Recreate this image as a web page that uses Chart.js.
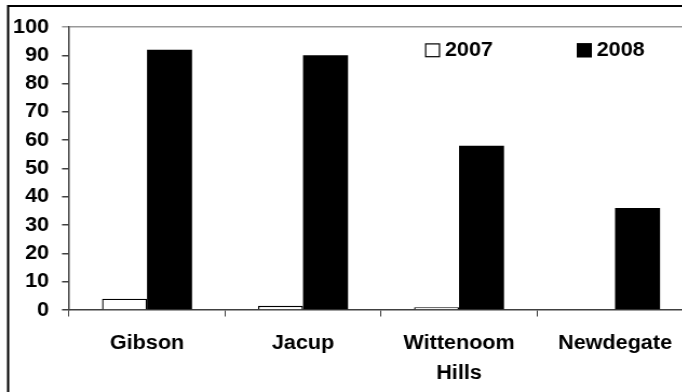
<!DOCTYPE html>
<html>
<head>
<meta charset="utf-8">
<script src="https://cdn.jsdelivr.net/npm/chart.js@4/dist/chart.umd.min.js"></script>
<style>
  html, body { margin: 0; padding: 0; background: #fff; }
  #wrap { width: 682px; height: 392px; overflow: hidden; position: relative; }
  #c { position: absolute; left: 0; top: 0; transform: scaleX(1.08); transform-origin: 0 0; }
</style>
</head>
<body>
<div id="wrap"><canvas id="c" width="660" height="400"></canvas></div>
<script>
// Sites and yearly values
const categories = ['Gibson', 'Jacup', ['Wittenoom', 'Hills'], 'Newdegate'];
const seriesNames = ['2007', '2008'];
const values2007 = [4, 1.5, 1, 0];
const values2008 = [92, 90, 58, 36];
const yMin = 0, yMax = 100, yStep = 10;

const FONT = { family: "'Liberation Sans', Arial, sans-serif", size: 20, weight: 'bold' };
const AXIS = '#404040';

// Outer frame around the whole chart
const framePlugin = {
  id: 'frame',
  beforeDraw(chart) {
    const ctx = chart.ctx;
    ctx.save();
    ctx.fillStyle = '#fff';
    ctx.fillRect(0, 0, chart.width, chart.height);
    ctx.restore();
  },
  afterDraw(chart) {
    const ctx = chart.ctx;
    ctx.save();
    ctx.strokeStyle = '#000';
    ctx.lineWidth = 2;
    ctx.strokeRect(7.5, 6, chart.width - 15, chart.height - 12);
    ctx.restore();
  }
};

// Legend drawn inside the plot area, one square marker per series
const insideLegend = {
  id: 'insideLegend',
  afterDatasetsDraw(chart) {
    const ctx = chart.ctx;
    const xs = [393.5, 534];
    const y = 50.3;
    ctx.save();
    ctx.font = `${FONT.weight} ${FONT.size}px ${FONT.family}`;
    ctx.textBaseline = 'middle';
    chart.data.datasets.forEach((ds, i) => {
      const x = xs[i];
      ctx.fillStyle = ds.backgroundColor;
      ctx.fillRect(x, y - 7, 14, 14);
      ctx.strokeStyle = '#000';
      ctx.lineWidth = 1.2;
      ctx.strokeRect(x + 0.6, y - 6.4, 12.8, 12.8);
      ctx.fillStyle = '#000';
      ctx.fillText(ds.label, x + 18.5, y + 0.5);
    });
    ctx.restore();
  }
};

new Chart(document.getElementById('c'), {
  type: 'bar',
  data: {
    labels: categories,
    datasets: [
      { label: seriesNames[0], data: values2007, backgroundColor: '#ffffff', borderColor: '#000000', borderWidth: 1.4 },
      { label: seriesNames[1], data: values2008, backgroundColor: '#000000', borderColor: '#000000', borderWidth: 0 }
    ]
  },
  options: {
    responsive: false,
    animation: false,
    devicePixelRatio: 1,
    layout: { padding: { left: 0, top: 27, right: 18.3, bottom: 0 } },
    datasets: { bar: { categoryPercentage: 0.577, barPercentage: 1.0 } },
    plugins: { legend: { display: false }, tooltip: { enabled: false } },
    scales: {
      x: {
        grid: { offset: true, drawOnChartArea: false, drawTicks: true, tickLength: 6.5, tickColor: AXIS },
        border: { color: AXIS, width: 1.5 },
        ticks: { color: '#000', font: { ...FONT, lineHeight: 1.5 }, padding: 12, maxRotation: 0, autoSkip: false },
        afterFit(scale) { scale.height = 90; }
      },
      y: {
        min: yMin, max: yMax,
        grid: {
          drawOnChartArea: true,
          color: c => (c.tick && c.tick.value === yMax) ? '#999999' : 'rgba(0,0,0,0)',
          tickColor: c => (c.tick && c.tick.value === yMax) ? '#999999' : AXIS,
          tickLength: 6.5,
          lineWidth: 1.5
        },
        border: { color: AXIS, width: 1.5 },
        ticks: { stepSize: yStep, color: '#000', font: FONT, padding: 12 },
        afterFit(scale) { scale.width = 63.9; }
      }
    }
  },
  plugins: [framePlugin, insideLegend]
});
</script>
</body>
</html>
